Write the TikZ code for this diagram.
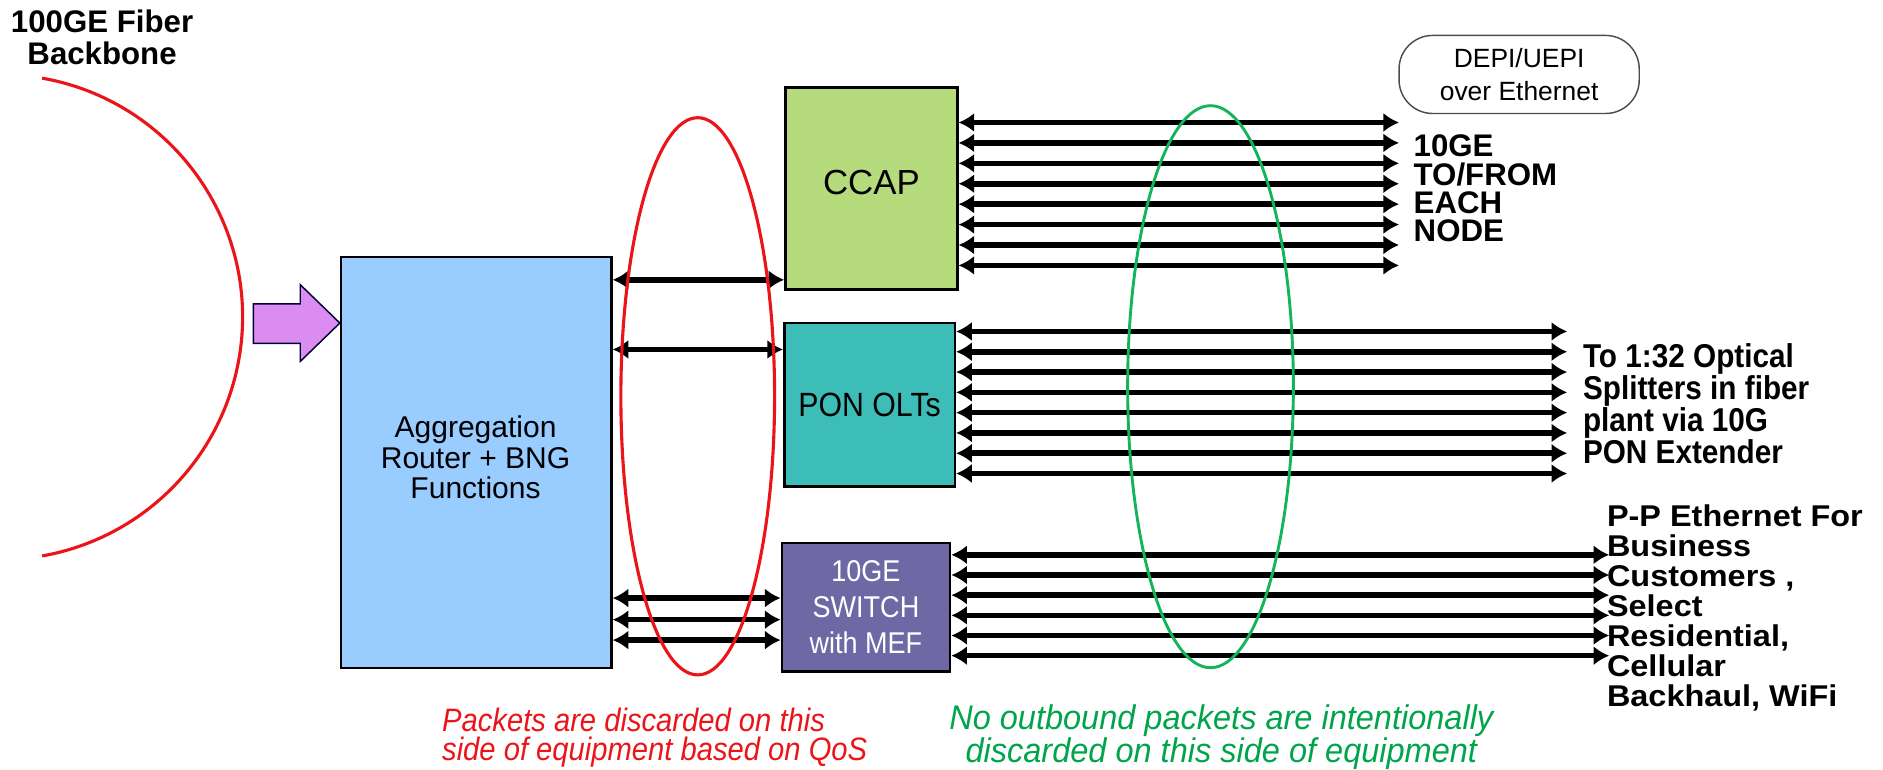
\documentclass[tikz,border=0pt]{standalone}
\usepackage{fontspec}
\setmainfont{Liberation Sans}
\newfontfamily\narrowf[FakeStretch=0.9]{Liberation Sans}
\newfontfamily\widef[FakeStretch=0.95]{Liberation Sans}
\newfontfamily\broadf[FakeStretch=1.08]{Liberation Sans}
\usetikzlibrary{arrows.meta,shapes.geometric,calc}
\definecolor{aggblue}{RGB}{153,204,255}
\definecolor{ccapgreen}{RGB}{181,219,125}
\definecolor{ponteal}{RGB}{60,189,184}
\definecolor{swpurple}{RGB}{110,105,165}
\definecolor{arrowpurple}{RGB}{218,140,240}
\definecolor{ringred}{RGB}{235,20,25}
\definecolor{ringgreen}{RGB}{20,180,90}
\definecolor{textgreen}{RGB}{0,165,75}
\begin{document}
\begin{tikzpicture}[x=1pt,y=-1pt,
  box/.style={draw=black, line width=2.2pt, inner sep=0pt, anchor=north west},
  dbl/.style={line width=4.6pt, {Latex[length=13pt,width=16pt]}-{Latex[length=13pt,width=16pt]}},
  ring/.style={ellipse, line width=2.6pt, inner sep=0pt},
  lbl/.style={inner sep=0pt}
]
\useasboundingbox (0,0) rectangle (1568,641);

% title
\node[lbl, align=center, font=\bfseries\fontsize{26}{26}\selectfont] (title) at (85,31) {100GE Fiber\\Backbone};

% backbone arc
\draw[ringred, line width=2.6pt] (0,264) ++(-80:202) arc[start angle=-80, end angle=80, radius=202];

% boxes
\node[box, fill=aggblue, minimum width=225pt, minimum height=342pt] (agg) at (283,213) {};
\node[lbl, align=center, font=\fontsize{25}{25.5}\selectfont] (aggtxt) at (396,381) {Aggregation\\Router + BNG\\Functions};
\node[box, fill=ccapgreen, minimum width=143pt, minimum height=168pt, font=\fontsize{29}{29}\selectfont, text depth=10pt] (ccap) at (653,72) {CCAP};
\node[box, fill=ponteal, minimum width=142pt, minimum height=136pt, font=\narrowf\fontsize{28}{28}\selectfont] (pon) at (652,268) {PON OLTs};
\node[box, fill=swpurple, minimum width=140pt, minimum height=107pt, text=white, align=center, font=\narrowf\fontsize{25}{30}\selectfont] (sw) at (650,451) {10GE\\SWITCH\\with MEF};

% purple input arrow
\coordinate (tip) at (agg.west |- 0,269);
\draw[fill=arrowpurple, draw=black!80!blue, line width=1.2pt, line join=miter]
  (211,253) -- (250,253) -- (250,237) -- (tip) -- (250,301) -- (250,286) -- (211,286) -- cycle;

% right-end coordinates
\coordinate (ccapR) at (1165,0);
\coordinate (ponR) at (1305,0);
\coordinate (swR) at (1340,0);

% agg to equipment
\draw[dbl] (agg.east |- 0,233) -- (ccap.west |- 0,233);
\draw[dbl] (agg.east |- 0,291) -- (pon.west |- 0,291);
\foreach \yy in {498,516,533} \draw[dbl] (agg.east |- 0,\yy) -- (sw.west |- 0,\yy);

% outbound arrows
\foreach \i in {0,...,7} {
  \pgfmathsetmacro\yy{102+17*\i}
  \draw[dbl] (ccap.east |- 0,\yy) -- (ccapR |- 0,\yy);
}
\foreach \i in {0,...,7} {
  \pgfmathsetmacro\yy{276+16.9*\i}
  \draw[dbl] (pon.east |- 0,\yy) -- (ponR |- 0,\yy);
}
\foreach \i in {0,...,5} {
  \pgfmathsetmacro\yy{462+16.8*\i}
  \draw[dbl] (sw.east |- 0,\yy) -- (swR |- 0,\yy);
}

% rings
\node[ring, draw=ringred, minimum width=128pt, minimum height=464pt] (redring) at (581,330) {};
\node[ring, draw=ringgreen, line width=2.4pt, minimum width=138pt, minimum height=468pt] (greenring) at (1008,322) {};

% DEPI box
\node[draw=black!70, line width=1.2pt, rounded corners=28pt, minimum width=200pt, minimum height=65pt, align=center, font=\fontsize{22}{28}\selectfont] (depi) at (1265,62) {DEPI/UEPI\\over Ethernet};

% right labels
\node[lbl, anchor=west, align=left, font=\bfseries\fontsize{26}{23.7}\selectfont] (ccaplbl) at (1177,157) {10GE\\TO/FROM\\EACH\\NODE};
\node[lbl, anchor=west, align=left, font=\narrowf\bfseries\fontsize{27.5}{24.7}\selectfont] (ponlbl) at (1318,336) {To 1:32 Optical\\Splitters in fiber\\plant via 10G\\PON Extender};
\node[lbl, anchor=west, align=left, font=\broadf\bfseries\fontsize{25}{25}\selectfont] (swlbl) at (1338,506) {P-P Ethernet For\\Business\\Customers ,\\Select\\Residential,\\Cellular\\Backhaul, WiFi};

% bottom notes
\node[lbl, anchor=west, align=left, text=ringred, font=\narrowf\itshape\fontsize{27}{24}\selectfont] (rednote) at (368,614) {Packets are discarded on this\\side of equipment based on QoS};
\node[lbl, align=center, text=textgreen, font=\widef\itshape\fontsize{28.5}{24}\selectfont] (greennote) at (1017,614) {No outbound packets are intentionally\\discarded on this side of equipment};
\end{tikzpicture}
\end{document}
